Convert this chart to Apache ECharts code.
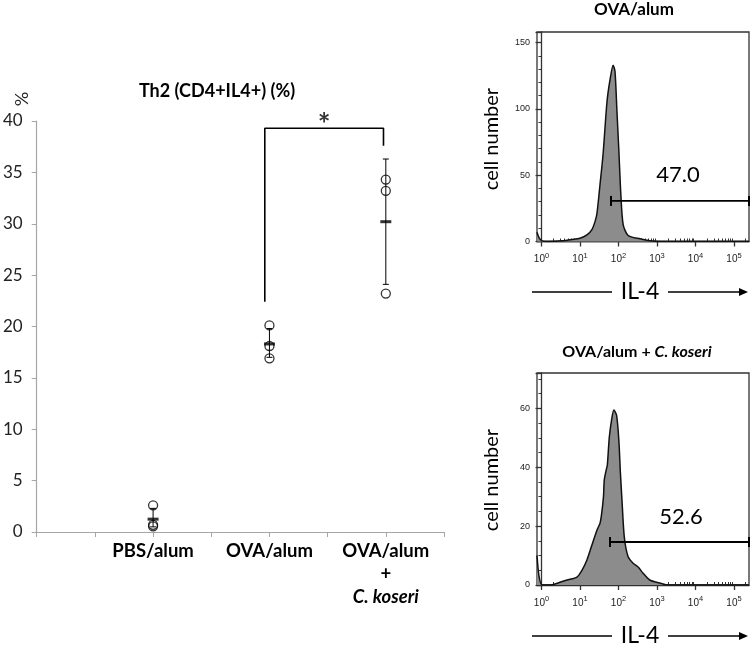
<!DOCTYPE html>
<html>
<head>
<meta charset="utf-8">
<script src="https://cdn.jsdelivr.net/npm/echarts@6/dist/echarts.min.js"></script>
<style>
html,body{margin:0;padding:0;background:#fff;}
#c{width:750px;height:649px;}
</style>
</head>
<body>
<div id="c"></div>
<script>
// ---------- Left panel data ----------
var groupNames = ['PBS/alum', 'OVA/alum', 'OVA/alum + C. koseri'];
var groupX = [1, 2, 3];
var pointsPBS = [2.6, 0.7, 0.55];
var pointsOVA = [20.1, 18.1, 16.9];
var pointsCK = [34.3, 33.2, 23.2];
var means = [1.25, 18.3, 30.2];
var errLow = [0.5, 17.0, 24.1];
var errHigh = [2.3, 19.8, 36.3];
var bracketX = [1.96, 2.98];
var bracketY = [22.4, 39.3, 37.6];
var yTicks = [0, 5, 10, 15, 20, 25, 30, 35, 40];

// ---------- Histogram data (x in decades, log10 of IL-4) ----------
var histTopX = [-0.117, -0.065, 0.013, 0.22, 0.53, 0.79, 1.0, 1.18, 1.31, 1.39, 1.44, 1.52, 1.60, 1.70, 1.78, 1.86, 1.91, 1.96, 2.01, 2.06, 2.12, 2.25, 2.56, 2.82, 3.08, 5.39];
var histTopY = [7, 3, 0.5, 0, 0.5, 1.5, 2.5, 5, 9, 15, 21, 43, 66, 105, 122, 133, 128, 98, 68, 36, 13, 4.5, 2, 0.5, 0, 0];
var histBotX = [-0.117, -0.065, 0.013, 0.22, 0.43, 0.66, 0.92, 1.05, 1.18, 1.31, 1.44, 1.52, 1.56, 1.61, 1.63, 1.68, 1.71, 1.76, 1.82, 1.88, 1.95, 2.01, 2.05, 2.09, 2.15, 2.25, 2.38, 2.51, 2.64, 2.81, 3.07, 3.3, 5.39];
var histBotY = [10, 3, 0, 0, 0.7, 1.7, 2.7, 5, 8.5, 13.6, 18.6, 21, 24, 30, 35.6, 39, 40.7, 50, 56, 59.4, 57.7, 49, 38, 28.9, 16.4, 9.6, 7.4, 6.1, 4, 1.7, 0.7, 0, 0];
var gateTop = {x0: 1.805, x1: 5.39, y: 30.6, label: '47.0'};
var gateBot = {x0: 1.78, x1: 5.39, y: 14.6, label: '52.6'};
var decadeTicks = [0, 1, 2, 3, 4, 5];
var histTitles = ['OVA/alum', 'OVA/alum + C. koseri'];

function zip(a, b) { return a.map(function (v, i) { return [v, b[i]]; }); }
var minorLog = [];
decadeTicks.forEach(function (k) {
  for (var m = 2; m <= 9; m++) { var v = k + Math.log10(m); if (v < 5.39) minorLog.push(v); }
});
minorLog.push(-0.046, -0.097);

var FONT = 'Lato, "Open Sans", sans-serif';
var chart = echarts.init(document.getElementById('c'), null, {renderer: 'canvas'});

var xLabelRich = {
  b: {fontSize: 10, fontFamily: 'Arial, "Liberation Sans"', color: '#222'},
  s: {fontSize: 7.5, fontFamily: 'Arial, "Liberation Sans"', color: '#222', verticalAlign: 'top', padding: [0, 0, 8, 0]}
};

function histXAxes(gi) {
  return [{
    type: 'value', gridIndex: gi, min: -0.117, max: 5.39,
    axisLine: {show: true, onZero: false, lineStyle: {color: '#333', width: 1.3}},
    axisTick: {show: true, length: 5, customValues: decadeTicks, lineStyle: {color: '#333', width: 1.3}},
    axisLabel: {show: true, customValues: decadeTicks, margin: 10, formatter: function (v) { return '{b|10}{s|' + v + '}'; }, rich: xLabelRich},
    splitLine: {show: false}
  }, {
    type: 'value', gridIndex: gi, min: -0.117, max: 5.39,
    axisLine: {show: false},
    axisTick: {show: true, length: 3, customValues: minorLog, lineStyle: {color: '#333', width: 1}},
    axisLabel: {show: false},
    splitLine: {show: false}
  }];
}

var xAxes = [{
  type: 'value', gridIndex: 0, min: 0, max: 3.5, interval: 0.5,
  axisLine: {show: true, lineStyle: {color: '#a6a6a6', width: 1}},
  axisTick: {show: true, length: 5, lineStyle: {color: '#a6a6a6'}},
  axisLabel: {
    show: true, margin: 8, interval: 0, lineHeight: 23,
    formatter: function (v) {
      if (v === 1) return '{b|' + groupNames[0] + '}';
      if (v === 2) return '{b|' + groupNames[1] + '}';
      if (v === 3) return '{b|OVA/alum}\n{b|+}\n{i|C. koseri}';
      return '';
    },
    rich: {
      b: {fontFamily: FONT, fontWeight: 'bold', fontSize: 18.5, color: '#000', lineHeight: 23},
      i: {fontFamily: FONT, fontWeight: 'bold', fontStyle: 'italic', fontSize: 18.5, color: '#000', lineHeight: 23}
    }
  },
  splitLine: {show: false}
}].concat(histXAxes(1)).concat(histXAxes(2));

var yAxes = [{
  type: 'value', gridIndex: 0, min: 0, max: 40, interval: 5,
  axisLine: {show: true, lineStyle: {color: '#a6a6a6', width: 1.2}},
  axisTick: {show: true, length: 5, lineStyle: {color: '#a6a6a6'}},
  axisLabel: {fontFamily: FONT, fontSize: 17, color: '#222', margin: 14},
  splitLine: {show: false}
}, {
  type: 'value', gridIndex: 1, min: 0, max: 158, interval: 50,
  axisLine: {show: true, lineStyle: {color: '#333', width: 1.3}},
  axisTick: {show: true, length: 6, lineStyle: {color: '#333', width: 1.3}},
  minorTick: {show: true, splitNumber: 5, length: 3, lineStyle: {color: '#333', width: 1}},
  axisLabel: {fontFamily: 'Arial, "Liberation Sans"', fontSize: 9, color: '#222', margin: 7, showMaxLabel: false},
  splitLine: {show: false}
}, {
  type: 'value', gridIndex: 2, min: 0, max: 72, interval: 20,
  axisLine: {show: true, lineStyle: {color: '#333', width: 1.3}},
  axisTick: {show: true, length: 6, lineStyle: {color: '#333', width: 1.3}},
  minorTick: {show: true, splitNumber: 4, length: 3, lineStyle: {color: '#333', width: 1}},
  axisLabel: {fontFamily: 'Arial, "Liberation Sans"', fontSize: 9, color: '#222', margin: 7, showMaxLabel: false},
  splitLine: {show: false}
}];

var groups = [pointsPBS, pointsOVA, pointsCK];
var pointData = [];
groups.forEach(function (arr, gi) { arr.forEach(function (v) { pointData.push([groupX[gi], v]); }); });

var errData = groupX.map(function (x, i) { return [x, errLow[i], errHigh[i]]; });
var meanData = groupX.map(function (x, i) { return [x, means[i]]; });

function gateSeries(g, xi, yi) {
  return {
    type: 'line', xAxisIndex: xi, yAxisIndex: yi, data: [[g.x0, g.y], [g.x1, g.y]],
    symbol: 'rect', symbolSize: [2, 10], showSymbol: true, clip: false,
    itemStyle: {color: '#000'}, lineStyle: {color: '#000', width: 1.8}, silent: true, z: 5
  };
}
function histSeries(xs, ys, xi, yi) {
  return {
    type: 'line', xAxisIndex: xi, yAxisIndex: yi, data: zip(xs, ys), showSymbol: false, smooth: 0.25,
    lineStyle: {color: '#111', width: 1.5}, areaStyle: {color: '#8c8c8c', opacity: 1}, silent: true, z: 3
  };
}

var series = [
  {
    type: 'custom', xAxisIndex: 0, yAxisIndex: 0, data: errData, z: 2,
    renderItem: function (params, api) {
      var lo = api.coord([api.value(0), api.value(1)]);
      var hi = api.coord([api.value(0), api.value(2)]);
      var w = 3;
      return {type: 'group', children: [
        {type: 'line', shape: {x1: lo[0], y1: lo[1], x2: hi[0], y2: hi[1]}, style: {stroke: '#000', lineWidth: 1}},
        {type: 'line', shape: {x1: lo[0] - w, y1: lo[1], x2: lo[0] + w, y2: lo[1]}, style: {stroke: '#000', lineWidth: 1}},
        {type: 'line', shape: {x1: hi[0] - w, y1: hi[1], x2: hi[0] + w, y2: hi[1]}, style: {stroke: '#000', lineWidth: 1}}
      ]};
    }
  },
  {
    type: 'scatter', xAxisIndex: 0, yAxisIndex: 0, data: pointData, symbol: 'circle', symbolSize: 9,
    itemStyle: {color: 'rgba(255,255,255,0)', borderColor: '#000', borderWidth: 1.3}, z: 3
  },
  {
    type: 'scatter', xAxisIndex: 0, yAxisIndex: 0, data: meanData, symbol: 'rect', symbolSize: [11, 3],
    itemStyle: {color: '#000'}, z: 4
  },
  {
    type: 'line', xAxisIndex: 0, yAxisIndex: 0, showSymbol: false, clip: false,
    data: [[bracketX[0], bracketY[0]], [bracketX[0], bracketY[1]], [bracketX[1], bracketY[1]], [bracketX[1], bracketY[2]]],
    lineStyle: {color: '#000', width: 1.6}, z: 2
  },
  {
    type: 'scatter', xAxisIndex: 0, yAxisIndex: 0, clip: false, symbolSize: 0,
    data: [[(bracketX[0] + bracketX[1]) / 2, 39.6]],
    label: {show: true, position: 'inside', formatter: '*', fontSize: 30, fontWeight: 'bold', color: '#000', fontFamily: FONT}
  },
  histSeries(histTopX, histTopY, 1, 1),
  gateSeries(gateTop, 1, 1),
  histSeries(histBotX, histBotY, 3, 2),
  gateSeries(gateBot, 3, 2)
];

function arrowGroup(y) {
  return [
    {type: 'line', shape: {x1: 532, y1: y, x2: 612, y2: y}, style: {stroke: '#000', lineWidth: 1.6}},
    {type: 'line', shape: {x1: 668, y1: y, x2: 742, y2: y}, style: {stroke: '#000', lineWidth: 1.6}},
    {type: 'polygon', shape: {points: [[748, y], [739, y - 4], [739, y + 4]]}, style: {fill: '#000'}},
    {type: 'text', style: {text: 'IL-4', x: 640, y: y, textAlign: 'center', textVerticalAlign: 'middle', font: '23px ' + FONT, fill: '#000'}}
  ];
}

var graphic = [
  {type: 'text', style: {text: 'Th2 (CD4+IL4+) (%)', x: 217, y: 91, textAlign: 'center', textVerticalAlign: 'middle', font: 'bold 18px ' + FONT, fill: '#000'}},
  {type: 'text', x: 21, y: 99, rotation: -Math.PI / 2, style: {text: '%', x: 0, y: 0, textAlign: 'center', textVerticalAlign: 'middle', font: '18px ' + FONT, fill: '#222'}},
  {type: 'text', style: {text: histTitles[0], x: 634, y: 10, textAlign: 'center', textVerticalAlign: 'middle', font: 'bold 17px ' + FONT, fill: '#000'}},
  {type: 'text', style: {text: '{a|OVA/alum + }{b|C. koseri}', x: 637, y: 352, textAlign: 'center', textVerticalAlign: 'middle',
    rich: {a: {fontFamily: FONT, fontWeight: 'bold', fontSize: 16, color: '#000'}, b: {fontFamily: FONT, fontWeight: 'bold', fontStyle: 'italic', fontSize: 16, color: '#000'}}}},
  {type: 'text', x: 492, y: 139, rotation: Math.PI / 2, style: {text: 'cell number', x: 0, y: 0, textAlign: 'center', textVerticalAlign: 'middle', font: '20px ' + FONT, fill: '#000'}},
  {type: 'text', x: 492, y: 480, rotation: Math.PI / 2, style: {text: 'cell number', x: 0, y: 0, textAlign: 'center', textVerticalAlign: 'middle', font: '20px ' + FONT, fill: '#000'}},
  {type: 'text', style: {text: gateTop.label, x: 678, y: 175, textAlign: 'center', textVerticalAlign: 'middle', font: '22px ' + FONT, fill: '#000'}},
  {type: 'text', style: {text: gateBot.label, x: 681, y: 517, textAlign: 'center', textVerticalAlign: 'middle', font: '22px ' + FONT, fill: '#000'}}
].concat(arrowGroup(292)).concat(arrowGroup(636));

chart.setOption({
  animation: false,
  backgroundColor: '#fff',
  grid: [
    {left: 34, top: 121, width: 410, height: 411},
    {left: 537, top: 32, width: 212, height: 209.5, show: true, borderColor: '#333', borderWidth: 1.3, backgroundColor: 'transparent'},
    {left: 537, top: 373, width: 212, height: 212, show: true, borderColor: '#333', borderWidth: 1.3, backgroundColor: 'transparent'}
  ],
  xAxis: xAxes,
  yAxis: yAxes,
  series: series,
  graphic: graphic
});
</script>
</body>
</html>
